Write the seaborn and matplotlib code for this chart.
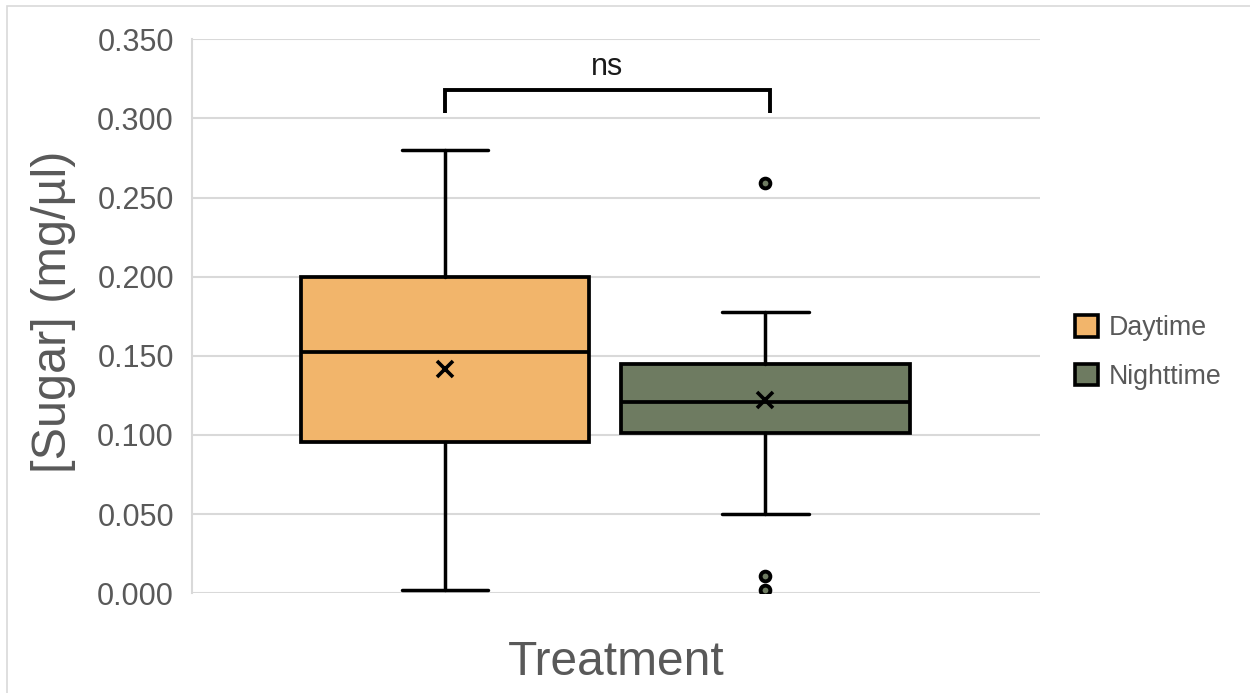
import matplotlib
matplotlib.use("Agg")
import matplotlib.pyplot as plt
from matplotlib.patches import Patch, Rectangle
import seaborn as sns

# Summary statistics of sugar concentration per treatment
groups = ["Daytime", "Nighttime"]
whislo = [0.002, 0.050]
q1 = [0.0955, 0.1015]
median = [0.1526, 0.121]
q3 = [0.200, 0.145]
whishi = [0.280, 0.178]
means = [0.142, 0.122]
fliers = [[], [0.259, 0.011, 0.002]]
colors = ["#F2B56B", "#6E7B61"]

yticks = [0.0, 0.05, 0.10, 0.15, 0.20, 0.25, 0.30, 0.35]
sig_label = "ns"

sns.set_theme(style="white")
plt.rcParams["font.family"] = ["Liberation Sans", "DejaVu Sans"]

fig = plt.figure(figsize=(12.5, 6.93), dpi=100)
ax = fig.add_axes([0.1536, 0.1439, 0.6784, 0.7994])

stats = []
for i, g in enumerate(groups):
    stats.append(dict(label=g, whislo=whislo[i], q1=q1[i], med=median[i],
                      q3=q3[i], whishi=whishi[i], mean=means[i],
                      fliers=fliers[i]))

positions = list(range(len(groups)))
lw = 2.7
parts = ax.bxp(
    stats, positions=positions, widths=0.9, capwidths=0.27,
    patch_artist=True, showmeans=True, showfliers=True,
    boxprops=dict(edgecolor="black", linewidth=lw),
    whiskerprops=dict(color="black", linewidth=2.5),
    capprops=dict(color="black", linewidth=2.5),
    medianprops=dict(color="black", linewidth=lw),
    meanprops=dict(marker="x", markersize=11, markeredgecolor="black",
                   markeredgewidth=2.6),
    flierprops=dict(marker="o", markersize=7, markeredgecolor="black",
                    markeredgewidth=2.8, linestyle="none"),
)
for box, c in zip(parts["boxes"], colors):
    box.set_facecolor(c)
for fl, c in zip(parts["fliers"], colors):
    fl.set_markerfacecolor(c)

ax.set_xlim(-0.789, 1.857)
ax.set_ylim(0, 0.35)
ax.set_yticks(yticks)
ax.set_yticklabels([f"{v:.3f}" for v in yticks])
ax.set_xticks([])
ax.tick_params(axis="y", labelsize=22, labelcolor="#595959", pad=13, length=0)
ax.yaxis.grid(True, color="#D9D9D9", linewidth=1.5)
ax.set_axisbelow(True)
for s in ["top", "right", "bottom"]:
    ax.spines[s].set_visible(False)
ax.spines["left"].set_color("#D9D9D9")
ax.spines["left"].set_linewidth(1.5)

# significance bracket between the two boxes
bracket_y = 0.3178
drop = 0.0146
ax.plot([positions[0], positions[0], positions[1] + 0.015, positions[1] + 0.015],
        [bracket_y - drop, bracket_y, bracket_y, bracket_y - drop],
        color="black", linewidth=2.8, solid_joinstyle="miter",
        solid_capstyle="butt", clip_on=False)
ax.text((positions[0] + positions[1]) / 2 + 0.0075, 0.3326, sig_label,
        ha="center", va="center", fontsize=22, color="#1a1a1a")

fig.text(54 / 1250, 1 - 312 / 693, "[Sugar] (mg/µl)", rotation=90,
         ha="center", va="center", fontsize=35, color="#595959")
fig.text(616 / 1250, 1 - 675 / 693, "Treatment", ha="center",
         va="baseline", fontsize=34.5, color="#595959")

handles = [Patch(facecolor=c, edgecolor="black", linewidth=2.6) for c in colors]
fig.legend(handles, groups, loc="center left",
           bbox_to_anchor=(1075 / 1250, 1 - 352.5 / 693), frameon=False,
           fontsize=19.3, labelcolor="#595959", handlelength=0.86,
           handleheight=0.86, handletextpad=0.4, labelspacing=0.85,
           borderpad=0, borderaxespad=0)

# light outer chart border
fig.patches.append(Rectangle((7 / 1250, -0.05), 1.2, 1.05 - 6 / 693,
                             transform=fig.transFigure, fill=False,
                             edgecolor="#D9D9D9", linewidth=1.2))

fig.savefig("out.png", dpi=100)
